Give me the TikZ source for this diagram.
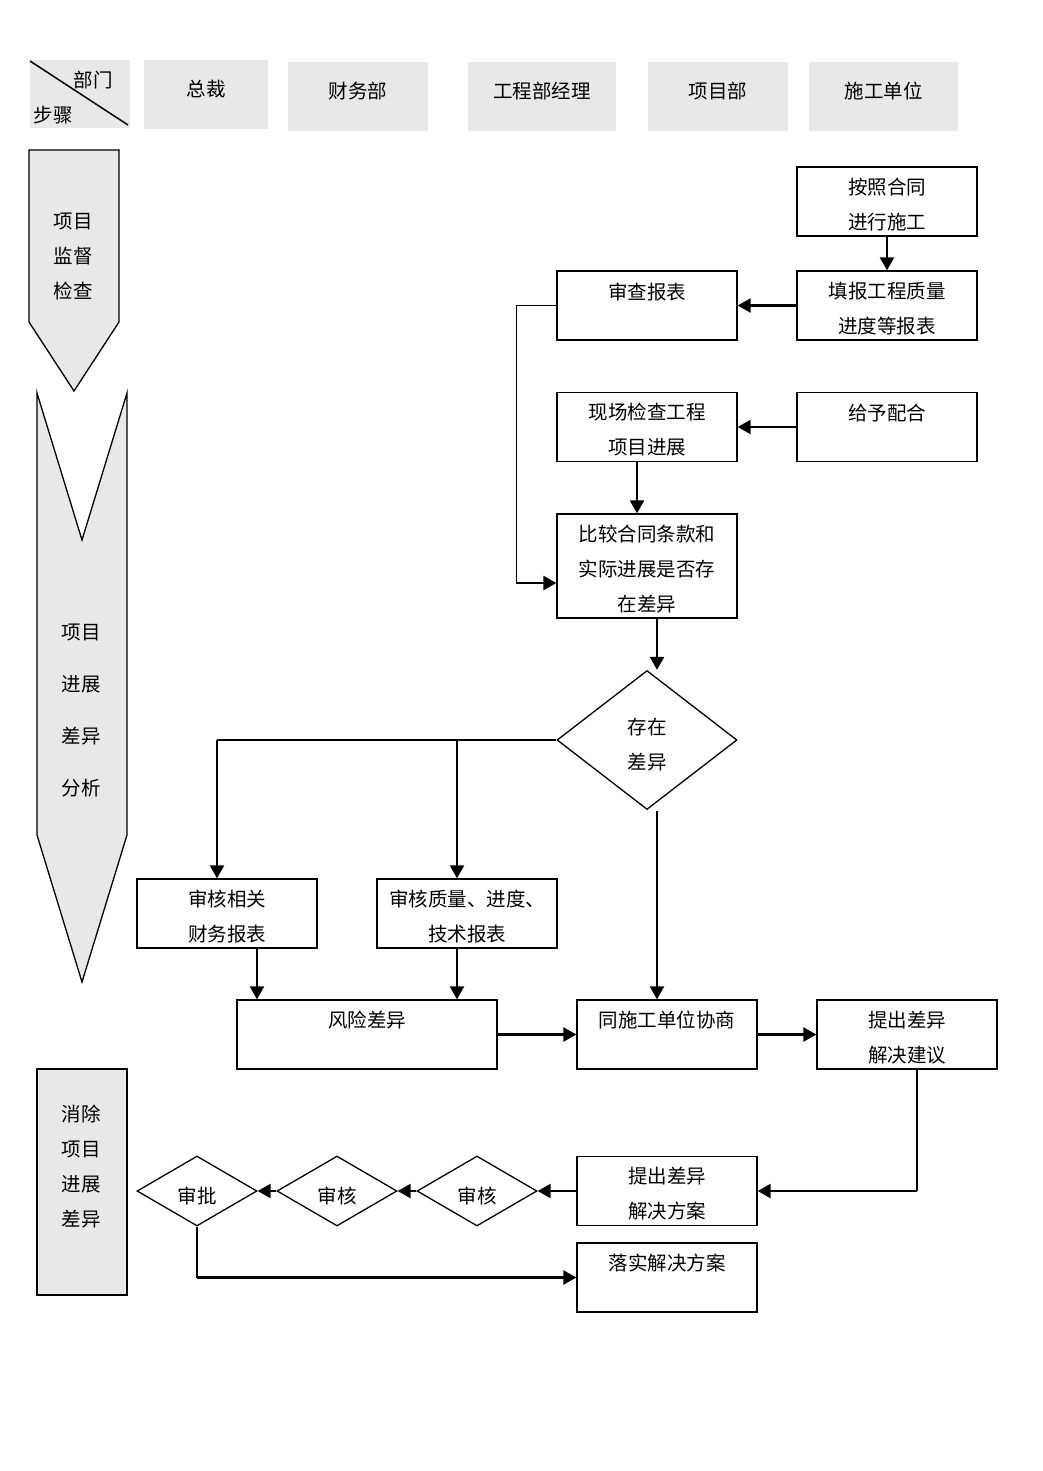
\documentclass[tikz,border=0pt]{standalone}
\usepackage{fontspec}
\setmainfont{Noto Sans CJK SC}
\usetikzlibrary{arrows.meta,shapes.geometric,calc}
\definecolor{hdrgray}{HTML}{E8E8E8}
\begin{document}
\begin{tikzpicture}[x=1pt,y=-1pt,
  txt/.style={inner sep=0pt, align=center, font=\fontsize{19.5}{35}\selectfont},
  hdr/.style={fill=hdrgray, inner sep=0pt},
  box/.style={draw, line width=1.3pt, minimum width=180pt, minimum height=69pt, inner sep=0pt},
  dbox/.style={draw, line width=1.3pt, shape=diamond, minimum width=180pt, minimum height=139pt, inner sep=0pt},
  sdia/.style={draw, line width=1.3pt, shape=diamond, minimum width=120pt, minimum height=70pt, inner sep=0pt},
  lane/.style={draw, line width=1.3pt, fill=hdrgray},
  arr/.style={-{Triangle[length=13pt,width=14pt]}, line width=2.3pt},
  thinline/.style={line width=1.4pt}]
\useasboundingbox (0,0) rectangle (1043,1471);
\fill[white] (0,0) rectangle (1043,1471);

% header
\node[hdr, minimum width=100pt, minimum height=68pt] (h0) at (80,94) {};
\draw[line width=1.5pt] (30,61) -- (128,125);
\node[txt] (h0a) at (93,80) {部门};
\node[txt] (h0b) at (53,115) {步骤};
\node[hdr, minimum width=124pt, minimum height=69pt] (h1) at (206,94.5) {};
\node[txt] (h1t) at (206,89) {总裁};
\node[hdr, minimum width=140pt, minimum height=69pt] (h2) at (358,96.5) {};
\node[txt] (h2t) at (358,91) {财务部};
\node[hdr, minimum width=148pt, minimum height=69pt] (h3) at (542,96.5) {};
\node[txt] (h3t) at (542,91) {工程部经理};
\node[hdr, minimum width=140pt, minimum height=69pt] (h4) at (718,96.5) {};
\node[txt] (h4t) at (718,91) {项目部};
\node[hdr, minimum width=149pt, minimum height=69pt] (h5) at (883.5,96.5) {};
\node[txt] (h5t) at (883.5,91) {施工单位};

% left lanes
\draw[lane] (29,150) -- (119,150) -- (119,322) -- (74,391) -- (29,322) -- cycle;
\node[txt] (l1) at (73,257) {项目\\监督\\检查};
\draw[lane] (37,393) -- (82,540) -- (127,393) -- (127,835) -- (82,982) -- (37,835) -- cycle;
\node[txt, font=\fontsize{19.5}{52}\selectfont] (l2) at (81,711) {项目\\进展\\差异\\分析};
\draw[lane] (37,1069) rectangle (127,1295);
\node[txt] (l3) at (81,1166.5) {消除\\项目\\进展\\差异};

% boxes
\node[box] (A) at (887,201.5) {};
\node[txt] (At) at (887,204.5) {按照合同\\进行施工};
\node[box] (B) at (887,305.5) {};
\node[txt] (Bt) at (887,308.5) {填报工程质量\\进度等报表};
\node[box] (C) at (647,305.5) {};
\node[txt] (Ct) at (647,292) {审查报表};
\node[box] (D) at (887,427) {};
\node[txt] (Dt) at (887,413) {给予配合};
\node[box] (E) at (647,427) {};
\node[txt] (Et) at (647,430) {现场检查工程\\项目进展};
\node[box, minimum height=104pt] (F) at (647,566) {};
\node[txt] (Ft) at (647,569) {比较合同条款和\\实际进展是否存\\在差异};
\node[dbox] (dia) at (647,740) {};
\node[txt] (diat) at (647,745) {存在\\差异};
\node[box] (G) at (227,913.5) {};
\node[txt] (Gt) at (227,916.5) {审核相关\\财务报表};
\node[box] (H) at (467,913.5) {};
\node[txt] (Ht) at (467,916.5) {审核质量、进度、\\技术报表};
\node[box, minimum width=260pt] (I) at (367,1034.5) {};
\node[txt] (It) at (367,1020) {风险差异};
\node[box] (J) at (667,1034.5) {};
\node[txt] (Jt) at (667,1020) {同施工单位协商};
\node[box] (K) at (907,1034.5) {};
\node[txt] (Kt) at (907,1037.5) {提出差异\\解决建议};
\node[box] (L) at (667,1191) {};
\node[txt] (Lt) at (667,1194) {提出差异\\解决方案};
\node[box] (M) at (667,1277.5) {};
\node[txt] (Mt) at (667,1263) {落实解决方案};
\node[sdia] (d1) at (197,1191) {};
\node[txt] (d1t) at (197,1196) {审批};
\node[sdia] (d2) at (337,1191) {};
\node[txt] (d2t) at (337,1196) {审核};
\node[sdia] (d3) at (477,1191) {};
\node[txt] (d3t) at (477,1196) {审核};

% connectors
\draw[arr] (A.south) -- (B.north);
\draw[arr] (B.west) -- (C.east);
\coordinate (f1) at ($(F.west)+(0,17)$);
\coordinate (c1) at ($(C.west)+(-40,0)$);
\coordinate (c2) at (c1 |- f1);
\draw[thinline] (C.west) -- (c1) -- (c2);
\draw[arr] (c2) -- (f1);
\draw[arr] (D.west) -- (E.east);
\draw[arr] ([xshift=-10pt]E.south) -- ([xshift=-10pt]F.north);
\draw[arr] ([xshift=10pt]F.south) -- ([xshift=10pt]dia.north);
\coordinate (j1) at ([xshift=-10pt]G.north |- dia.west);
\coordinate (j2) at ([xshift=-10pt]H.north |- dia.west);
\draw[thinline] (dia.west) -- (j1);
\draw[arr] (j1) -- ([xshift=-10pt]G.north);
\draw[arr] (j2) -- ([xshift=-10pt]H.north);
\draw[arr] ([xshift=10pt,yshift=-1pt]dia.south) -- ([xshift=-10pt]J.north);
\draw[arr] ([xshift=30pt]G.south) -- ([xshift=30pt]G.south |- I.north);
\draw[arr] ([xshift=-10pt]H.south) -- ([xshift=-10pt]H.south |- I.north);
\draw[arr] (I.east) -- (J.west);
\draw[arr] (J.east) -- (K.west);
\coordinate (k1) at ([xshift=10pt]K.south |- L.east);
\draw[thinline] ([xshift=10pt]K.south) -- (k1);
\draw[arr] (k1) -- (L.east);
\draw[arr] (L.west) -- (d3.east);
\draw[arr] (d3.west) -- (d2.east);
\draw[arr] (d2.west) -- (d1.east);
\coordinate (m1) at (d1.south |- M.west);
\draw[thinline] (d1.south) -- (m1);
\draw[arr] (m1) -- (M.west);
\end{tikzpicture}
\end{document}
